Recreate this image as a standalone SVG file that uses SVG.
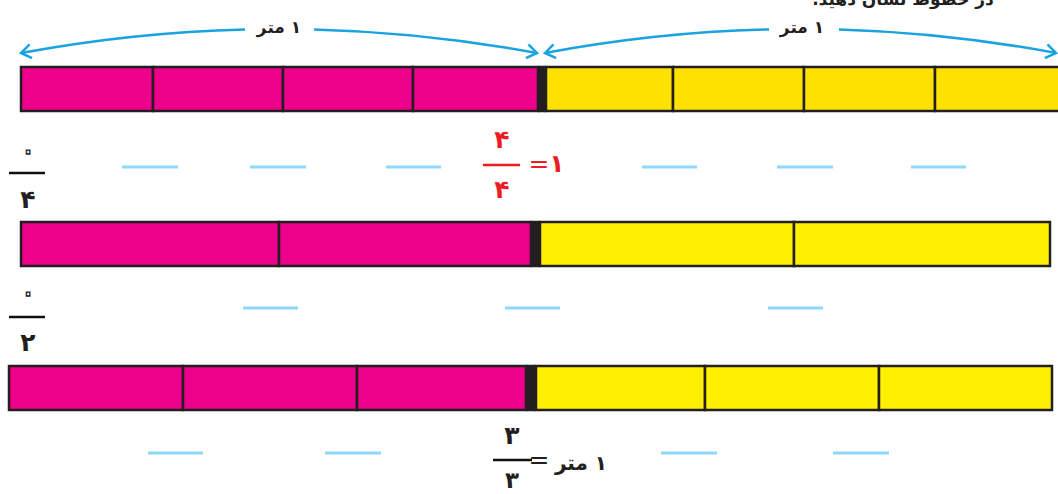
<svg xmlns="http://www.w3.org/2000/svg" width="1058" height="494" viewBox="0 0 1058 494">
<defs>
<style>
.pk{fill:#ec008c;stroke:#231f20;stroke-width:2.5}
.y1{fill:#ffe100;stroke:#231f20;stroke-width:2.5}
.y2{fill:#fff000;stroke:#231f20;stroke-width:2.5}
.sep{fill:#231f20}
.blank{stroke:#8dd8f8;stroke-width:3}
.fl{stroke:#111;stroke-width:2.5}
.rl{stroke:#ed1c24;stroke-width:2.5}
.arc{fill:none;stroke:#1aa3e0;stroke-width:2.5}
.fa{font-family:"DejaVu Sans","Noto Sans",sans-serif;font-weight:bold;text-anchor:middle}
.rtl{direction:rtl;unicode-bidi:embed}
.lbl{font-size:17px;fill:#231f20}
.num{font-size:25px;fill:#231f20}
.zero{font-size:32px;fill:#fff;stroke:#231f20;stroke-width:1.3;font-weight:normal}
.red{font-size:25px;fill:#ed1c24}
</style>
<marker id="ah" viewBox="-12 -8 14 16" markerWidth="14" markerHeight="16" refX="0" refY="0" orient="auto-start-reverse" markerUnits="userSpaceOnUse">
<path d="M-10,-7 L0,0 L-10,7" fill="none" stroke="#1aa3e0" stroke-width="2.5"/>
</marker>
</defs>
<rect width="1058" height="494" fill="#fff"/>

<g id="title">
<text x="903" y="5" class="fa rtl" style="font-size:17px;fill:#231f20">در خطوط نشان دهید.</text>
</g>

<g id="connectors">
<path class="arc" d="M21,53 Q133,32.2 245,29.4" marker-start="url(#ah)"/>
<path class="arc" d="M314,29.4 Q425.5,32.3 537,53" marker-end="url(#ah)"/>
<path class="arc" d="M545,53 Q657,32 769,29.4" marker-start="url(#ah)"/>
<path class="arc" d="M839,29.4 Q948,32.6 1056,53" marker-end="url(#ah)"/>
</g>

<g id="label-meter-1"><text x="279" y="33" class="fa lbl rtl">۱ متر</text></g>
<g id="label-meter-2"><text x="802" y="33" class="fa lbl rtl">۱ متر</text></g>

<g id="bar-quarters">
<rect class="pk" x="21" y="67" width="132" height="44"/>
<rect class="pk" x="153" y="67" width="130" height="44"/>
<rect class="pk" x="283" y="67" width="130" height="44"/>
<rect class="pk" x="413" y="67" width="125" height="44"/>
<rect class="sep" x="538" y="65.75" width="8" height="46.5"/>
<rect class="y1" x="546" y="67" width="127" height="44"/>
<rect class="y1" x="673" y="67" width="131" height="44"/>
<rect class="y1" x="804" y="67" width="131" height="44"/>
<rect class="y1" x="935" y="67" width="130" height="44"/>
</g>

<g id="row1-labels">
<text x="28" y="161" class="fa zero">۰</text>
<line class="fl" x1="9" y1="173" x2="45" y2="173"/>
<text x="28" y="208" class="fa num">۴</text>
<line class="blank" x1="122" y1="167" x2="178" y2="167"/>
<line class="blank" x1="250" y1="167" x2="306" y2="167"/>
<line class="blank" x1="386" y1="167" x2="441" y2="167"/>
<line class="blank" x1="642" y1="167" x2="697" y2="167"/>
<line class="blank" x1="777" y1="167" x2="833" y2="167"/>
<line class="blank" x1="911" y1="167" x2="966" y2="167"/>
</g>

<g id="red-fraction">
<text x="502" y="148" class="fa red">۴</text>
<line class="rl" x1="483" y1="165" x2="520" y2="165"/>
<text x="502" y="198" class="fa red">۴</text>
<text x="539" y="172" class="fa red" style="font-weight:normal">=</text>
<text x="557" y="172" class="fa red">۱</text>
</g>

<g id="bar-halves">
<rect class="pk" x="21" y="222" width="258" height="44"/>
<rect class="pk" x="279" y="222" width="252" height="44"/>
<rect class="sep" x="531" y="220.75" width="9" height="46.5"/>
<rect class="y2" x="540" y="222" width="254" height="44"/>
<rect class="y2" x="794" y="222" width="256" height="44"/>
</g>

<g id="row2-labels">
<text x="28" y="303" class="fa zero">۰</text>
<line class="fl" x1="9" y1="317" x2="45" y2="317"/>
<text x="28" y="351" class="fa num">۲</text>
<line class="blank" x1="243" y1="308" x2="298" y2="308"/>
<line class="blank" x1="505" y1="308" x2="560" y2="308"/>
<line class="blank" x1="768" y1="308" x2="823" y2="308"/>
</g>

<g id="bar-thirds">
<rect class="pk" x="9" y="366" width="174" height="44"/>
<rect class="pk" x="183" y="366" width="174" height="44"/>
<rect class="pk" x="357" y="366" width="169" height="44"/>
<rect class="sep" x="526" y="364.75" width="10" height="46.5"/>
<rect class="y2" x="536" y="366" width="169" height="44"/>
<rect class="y2" x="705" y="366" width="174" height="44"/>
<rect class="y2" x="879" y="366" width="173" height="44"/>
</g>

<g id="row3-labels">
<line class="blank" x1="148" y1="453" x2="203" y2="453"/>
<line class="blank" x1="325" y1="453" x2="381" y2="453"/>
<line class="blank" x1="661" y1="453" x2="717" y2="453"/>
<line class="blank" x1="833" y1="453" x2="889" y2="453"/>
</g>

<g id="black-fraction">
<text x="512" y="444" class="fa num">۳</text>
<line class="fl" x1="493" y1="460" x2="532" y2="460"/>
<text x="512" y="488" class="fa num" style="font-size:23px">۳</text>
<text x="539" y="468" class="fa num" style="font-weight:normal">=</text>
<text x="581" y="470" class="fa rtl" style="font-size:20px;fill:#231f20">۱ متر</text>
</g>
</svg>
